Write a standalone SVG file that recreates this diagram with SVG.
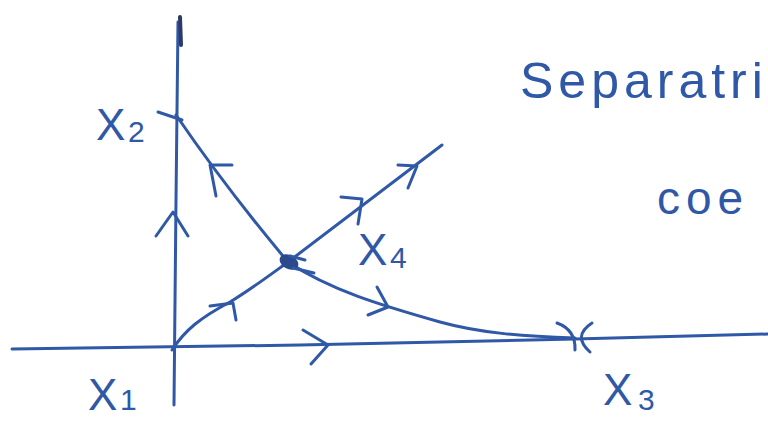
<svg xmlns="http://www.w3.org/2000/svg" width="768" height="423" viewBox="0 0 768 423">
<style>
.s{fill:none;stroke:#2f58a6;stroke-width:3;stroke-linecap:round;stroke-linejoin:round}
.t{fill:#2f58a6;font-family:"Liberation Sans",Arial,sans-serif}
.lab{font-size:44px}
.sub{font-size:30px}
</style>
<rect width="768" height="423" fill="#fff"/>
<g id="axes">
<path class="s" d="M178,22 L176,200 L174,405"/>
<path d="M180,17 L181,45" stroke="#2b3a66" stroke-width="4" stroke-linecap="round"/>
<path class="s" d="M12,349 L300,345 L575,339 L768,334"/>
</g>
<g id="connectors">
<path class="s" d="M176,115 C200,150 240,205 288,262 C330,290 380,305 440,322 C480,333 520,336 575,338"/>
<path class="s" d="M172,350 C185,330 200,318 230,302 C250,290 270,275 288,262 L442,145"/>
<path class="s" d="M156,236 L173,212 L188,236"/>
<path class="s" d="M232,165 L210,165 L216,196"/>
<path class="s" d="M341,197 L362,199 L358,224"/>
<path class="s" d="M398,165 L417,166 L408,188"/>
<path class="s" d="M210,306 L233,303 L236,320"/>
<path class="s" d="M377,287 L388,307 L368,315"/>
<path class="s" d="M303,330 L328,345 L311,364"/>
</g>
<g id="X4-saddle">
<ellipse cx="289" cy="262" rx="10" ry="7" fill="#2b4a8e" transform="rotate(30 289 262)"/>
<path class="s" d="M290,256 L305,260 M293,268 L314,273"/>
</g>
<g id="X2">
<path class="s" d="M158,112 L182,120"/>
<text class="t lab" x="96" y="140">X</text><text class="t sub" x="128" y="142">2</text>
</g>
<g id="X1">
<text class="t lab" x="88" y="410">X</text><text class="t sub" x="120" y="410">1</text>
</g>
<g id="X3">
<path class="s" d="M557,323 Q576,330 575,350 M592,323 Q572,336 590,352"/>
<text class="t lab" x="603" y="405">X</text><text class="t sub" x="638" y="410">3</text>
</g>
<g id="X4">
<text class="t lab" x="358" y="265">X</text><text class="t sub" x="390" y="268">4</text>
</g>
<g id="notes">
<text class="t" x="520" y="98" font-size="50" letter-spacing="5">Separatri</text>
<text class="t" x="657" y="214" font-size="46" letter-spacing="6">coe</text>
</g>
</svg>
